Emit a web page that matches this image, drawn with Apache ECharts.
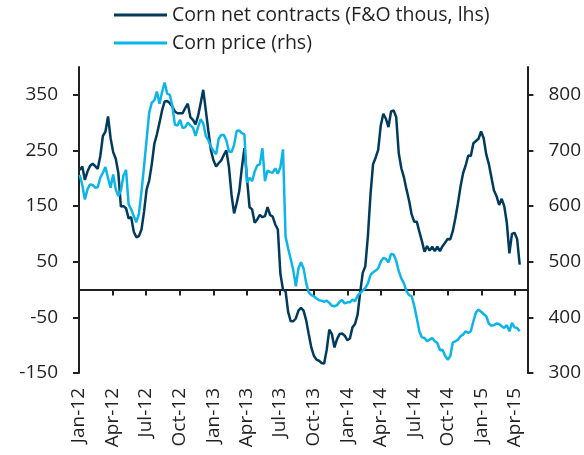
<!DOCTYPE html>
<html>
<head>
<meta charset="utf-8">
<script src="https://cdn.jsdelivr.net/npm/echarts@6/dist/echarts.min.js"></script>
<style>
  html, body { margin: 0; padding: 0; background: #ffffff; }
  #chart { width: 584px; height: 455px; }
</style>
</head>
<body>
<div id="chart"></div>
<script>
// Weekly observations, first one on this date
const firstWeek = [2012, 0, 3];

// Corn net contracts, futures & options, thousands (left axis)
const netContracts = [
  215, 221, 197, 212, 222, 226, 222, 217, 240, 276,
  284, 311, 272, 247, 235, 210, 149, 150, 146, 128,
  130, 104, 94, 96, 108, 140, 180, 196, 225, 262,
  279, 300, 322, 338, 339, 335, 329, 320, 317, 317,
  317, 326, 334, 310, 305, 297, 312, 335, 359, 322,
  285, 250, 232, 221, 227, 232, 242, 250, 220, 170,
  137, 155, 177, 218, 254, 200, 148, 144, 120, 126,
  134, 130, 132, 148, 134, 131, 117, 108, 28, 0,
  -3, -40, -57, -57, -52, -38, -33, -38, -55, -80,
  -104, -119, -126, -128, -132, -133, -108, -72, -80, -104,
  -89, -80, -79, -83, -91, -88, -68, -62, -45, -5,
  30, 42, 96, 170, 225, 237, 251, 295, 316, 307,
  292, 320, 322, 310, 245, 218, 202, 180, 160, 135,
  122, 122, 104, 87, 68, 78, 70, 77, 69, 77,
  69, 78, 84, 91, 90, 105, 128, 155, 185, 209,
  223, 241, 240, 263, 267, 271, 284, 272, 243, 226,
  202, 178, 168, 152, 163, 150, 120, 65, 100, 102,
  91, 45
];

// Corn price (right axis)
const cornPrice = [
  656, 638, 612, 630, 639, 638, 633, 634, 651, 660,
  670, 650, 633, 657, 630, 618, 628, 655, 665, 603,
  594, 582, 571, 586, 626, 672, 720, 768, 786, 790,
  806, 784, 805, 822, 802, 800, 780, 746, 745, 755,
  740, 742, 750, 745, 741, 726, 742, 756, 749, 726,
  718, 707, 699, 693, 721, 728, 728, 718, 698, 697,
  710, 735, 736, 731, 729, 642, 651, 645, 662, 673,
  675, 704, 645, 664, 661, 660, 668, 658, 670, 702,
  545, 524, 505, 485, 456, 488, 499, 488, 462, 445,
  440, 438, 434, 431, 430, 428, 430, 426, 421, 420,
  422, 428, 431, 425, 427, 427, 432, 429, 439, 444,
  448, 453, 461, 476, 481, 484, 488, 500, 507, 505,
  499, 514, 513, 502, 483, 470, 461, 447, 440, 438,
  421, 399, 375, 364, 363, 357, 360, 363, 357, 354,
  341, 342, 331, 324, 330, 355, 357, 360, 366, 369,
  375, 372, 375, 393, 409, 414, 410, 406, 402, 389,
  385, 386, 389, 388, 384, 381, 386, 375, 390, 382,
  381, 375
];

const quarterLabels = [
  'Jan-12', 'Apr-12', 'Jul-12', 'Oct-12', 'Jan-13', 'Apr-13', 'Jul-13',
  'Oct-13', 'Jan-14', 'Apr-14', 'Jul-14', 'Oct-14', 'Jan-15', 'Apr-15'
];
const leftTicks = [-150, -50, 50, 150, 250, 350];
const rightTicks = [300, 400, 500, 600, 700, 800];

const seriesNames = ['Corn net contracts (F&O thous, lhs)', 'Corn price (rhs)'];
const navy = '#003a5d';
const cyan = '#0db4ea';
const ink = '#231f20';
const fontFamily = '"Open Sans", "Noto Sans", sans-serif';

const DAY = 86400000;
const MONTHS = ['Jan','Feb','Mar','Apr','May','Jun','Jul','Aug','Sep','Oct','Nov','Dec'];
const start = Date.UTC(firstWeek[0], firstWeek[1], firstWeek[2]);
const weekDates = netContracts.map((_, i) => start + i * 7 * DAY);

function labelToTime(s) {
  const [m, y] = s.split('-');
  return Date.UTC(2000 + Number(y), MONTHS.indexOf(m), 1);
}
const quarterTimes = quarterLabels.map(labelToTime);
const labelByTime = {};
quarterTimes.forEach((t, i) => { labelByTime[t] = quarterLabels[i]; });

const xMin = Date.UTC(2012, 0, 1);
const xMax = Date.UTC(2015, 4, 5);

const chart = echarts.init(document.getElementById('chart'), null, { renderer: 'canvas' });

const axisLineStyle = { color: ink, width: 2 };
const tickStyle = { color: ink, width: 2 };
const labelStyle = { color: ink, fontSize: 19, fontFamily: fontFamily };

chart.setOption({
  animation: false,
  backgroundColor: '#ffffff',
  grid: { left: 79, right: 56, top: 67, bottom: 82, containLabel: false },
  legend: {
    data: seriesNames,
    orient: 'vertical',
    left: 114,
    top: 5,
    padding: 0,
    icon: 'rect',
    itemWidth: 53,
    itemHeight: 3,
    itemGap: 8,
    textStyle: { color: ink, fontSize: 19.5, lineHeight: 20, fontFamily: fontFamily }
  },
  xAxis: [
    {
      type: 'value',
      min: xMin,
      max: xMax,
      axisLine: { show: true, onZero: true, onZeroAxisIndex: 0, lineStyle: axisLineStyle },
      axisTick: { show: true, customValues: quarterTimes, length: 6, lineStyle: tickStyle },
      axisLabel: { show: false },
      splitLine: { show: false }
    },
    {
      type: 'value',
      min: xMin,
      max: xMax,
      position: 'bottom',
      axisLine: { show: false, onZero: false },
      axisTick: { show: false },
      axisLabel: {
        show: true,
        customValues: quarterTimes,
        rotate: 90,
        margin: 15,
        formatter: (v) => labelByTime[v] || '',
        ...labelStyle
      },
      splitLine: { show: false }
    }
  ],
  yAxis: [
    {
      type: 'value',
      position: 'left',
      min: -150,
      max: 400,
      axisLine: { show: true, onZero: false, lineStyle: axisLineStyle },
      axisTick: { show: true, customValues: leftTicks, length: 6, lineStyle: tickStyle },
      axisLabel: { customValues: leftTicks, margin: 21, ...labelStyle },
      splitLine: { show: false }
    },
    {
      type: 'value',
      position: 'right',
      min: 300,
      max: 850,
      axisLine: { show: true, onZero: false, lineStyle: axisLineStyle },
      axisTick: { show: true, customValues: rightTicks, length: 6, lineStyle: tickStyle },
      axisLabel: { customValues: rightTicks, margin: 21, ...labelStyle },
      splitLine: { show: false }
    }
  ],
  series: [
    {
      name: seriesNames[0],
      type: 'line',
      xAxisIndex: 0,
      yAxisIndex: 0,
      data: weekDates.map((t, i) => [t, netContracts[i]]),
      symbol: 'none',
      lineStyle: { color: navy, width: 2.5 },
      itemStyle: { color: navy },
      z: 2
    },
    {
      name: seriesNames[1],
      type: 'line',
      xAxisIndex: 0,
      yAxisIndex: 1,
      data: weekDates.map((t, i) => [t, cornPrice[i]]),
      symbol: 'none',
      lineStyle: { color: cyan, width: 2.5 },
      itemStyle: { color: cyan },
      z: 3
    }
  ]
});
</script>
</body>
</html>
